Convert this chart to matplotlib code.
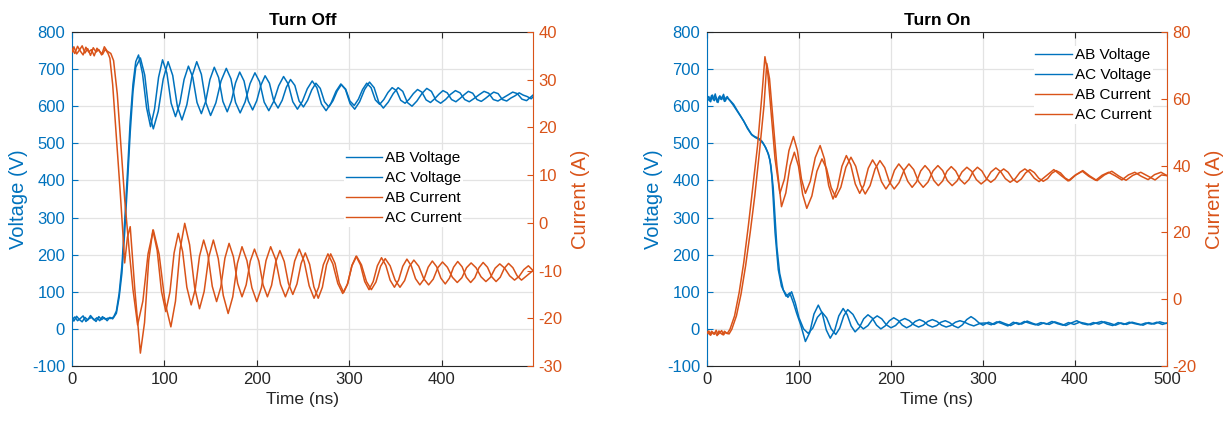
import matplotlib
matplotlib.use('Agg')
import matplotlib.pyplot as plt

plt.rcParams['font.family'] = ['Liberation Sans', 'DejaVu Sans']
plt.rcParams['axes.unicode_minus'] = False

# ---------------- Turn Off data (time ns, value) ----------------
off_ab_voltage = [
    (0, 25), (3, 32), (6, 22), (9, 28), (12, 35), (15, 20), (18, 27), (21, 31), (24, 24), (27, 30), (30, 22),
    (33, 33), (36, 26), (39, 29), (42, 28), (45, 32), (48, 48), (51, 95), (54, 170), (57, 290), (60, 420),
    (63, 560), (66, 660), (69, 720), (72, 738),
    (76.3, 688), (80.7, 596), (85, 545), (89.3, 592), (93.7, 678), (98, 725), (102.7, 689), (107.3, 608),
    (112, 572), (116.7, 608), (121.3, 672), (126, 708), (130.7, 678), (135.3, 610), (140, 580), (144.7, 613),
    (149.3, 672), (154, 705), (158.7, 677), (163.3, 613), (168, 585), (172.5, 614), (177, 663), (181.5, 692),
    (186.2, 668), (190.8, 614), (195.5, 590), (200, 615), (204.5, 657), (209, 682), (213.7, 662), (218.3, 615),
    (223, 595), (227.5, 616), (232, 651), (236.5, 672), (241.2, 656), (245.8, 614), (250.5, 598), (255, 616),
    (259.5, 644), (264, 662), (268.7, 648), (273.3, 612), (278, 598), (282.5, 615), (287, 641), (291.5, 658),
    (296.2, 646), (300.8, 614), (305.5, 602), (310, 619), (314.5, 645), (319, 662), (323.7, 650), (328.3, 617),
    (333, 605), (337.5, 618), (342, 637), (346.5, 650), (351.2, 642), (355.8, 616), (360.5, 608), (365, 619),
    (369.5, 634), (374, 645), (378.7, 638), (383.3, 617), (388, 610), (392.5, 620), (397, 632), (401.5, 642),
    (406.2, 636), (410.8, 618), (415.5, 612), (420, 621), (424.5, 631), (429, 640), (433.7, 635), (438.3, 618),
    (443, 613), (447.5, 621), (452, 630), (456.5, 638), (461.2, 634), (465.8, 618), (470.5, 614), (475, 622),
    (479.5, 628), (484, 636), (488.3, 630), (492.7, 626), (497, 620), (499, 625)]

off_ac_voltage = [
    (0, 30), (2, 21), (5, 34), (8, 25), (11, 19), (14, 31), (17, 24), (20, 36), (23, 27), (26, 20), (29, 33),
    (32, 25), (35, 30), (38, 22), (41, 31), (44, 27), (48, 42), (51, 85), (54, 150), (57, 260), (60, 390),
    (63, 530), (66, 640), (69, 705), (74, 730),
    (78.7, 684), (83.3, 585), (88, 539), (93.3, 586), (98.7, 673), (104, 720), (109, 683), (114, 600),
    (119, 563), (124.3, 604), (129.7, 679), (135, 720), (140, 686), (145, 609), (150, 575), (155.7, 609),
    (161.3, 668), (167, 702), (172, 674), (177, 610), (182, 582), (187.3, 611), (192.7, 661), (198, 690),
    (203, 666), (208, 611), (213, 588), (218.3, 613), (223.7, 655), (229, 680), (234, 660), (239, 612),
    (244, 592), (249.3, 613), (254.7, 647), (260, 668), (265, 650), (270, 606), (275, 588), (280.3, 608),
    (285.7, 640), (291, 660), (296, 645), (301, 607), (306, 592), (311.3, 612), (316.7, 645), (322, 665),
    (327, 650), (332, 611), (337, 595), (342.3, 611), (347.7, 634), (353, 650), (358, 640), (363, 610),
    (368, 600), (373.3, 614), (378.7, 634), (384, 648), (389, 640), (394, 616), (399, 608), (404.3, 618),
    (409.7, 632), (415, 642), (420, 636), (425, 618), (430, 612), (435.3, 621), (440.7, 631), (446, 640),
    (451, 635), (456, 618), (461, 614), (466.3, 622), (471.7, 630), (477, 638), (482, 634), (487, 619),
    (492, 615), (499, 630)]

off_ab_current = [
    (0, 36.5), (3, 35.5), (6, 37), (9, 36), (12, 35.2), (15, 36.8), (18, 35.8), (21, 36.3), (24, 35),
    (27, 36.6), (30, 35.9), (33, 35.3), (36, 36.4), (39, 35.5), (41, 34.5), (44, 29), (48, 18), (52, 7),
    (55, -2), (57, -8.4), (60, -3), (63, -0.8), (68, -14), (74, -27.3),
    (78.5, -20.9), (83, -7.9), (87.5, -1.5), (92.2, -5.8), (96.8, -14.3), (101.5, -18.6), (106, -14.5),
    (110.5, -6.3), (115, -2.2), (119.7, -6.0), (124.3, -13.5), (129, -17.2), (133.5, -13.8), (138, -7.0),
    (142.5, -3.6), (147.2, -6.8), (151.8, -13.3), (156.5, -16.5), (161, -13.5), (165.5, -7.4), (170, -4.3),
    (174.7, -7.1), (179.3, -12.7), (184, -15.5), (188.5, -13.0), (193, -8.0), (197.5, -5.5), (202.2, -8.0),
    (206.8, -13.0), (211.5, -15.5), (216, -13.1), (220.5, -8.2), (225, -5.8), (229.7, -8.1), (234.3, -12.7),
    (239, -15), (243.5, -12.8), (248, -8.5), (252.5, -6.3), (257.2, -8.7), (261.8, -13.4), (266.5, -15.8),
    (271, -13.5), (275.5, -8.8), (280, -6.5), (284.7, -8.5), (289.3, -12.6), (294, -14.6), (298.5, -12.7),
    (303, -8.9), (307.5, -7), (312.2, -8.8), (316.8, -12.3), (321.5, -14), (326, -12.3), (330.5, -9.0),
    (335, -7.3), (339.7, -8.9), (344.3, -12.0), (349, -13.5), (353.5, -12.0), (358, -9.1), (362.5, -7.6),
    (367.2, -9.0), (371.8, -11.7), (376.5, -13), (381, -11.8), (385.5, -9.3), (390, -8), (394.7, -9.2),
    (399.3, -11.6), (404, -12.8), (408.5, -11.6), (413, -9.3), (417.5, -8.1), (422.2, -9.2), (426.8, -11.4),
    (431.5, -12.5), (436, -11.5), (440.5, -9.4), (445, -8.3), (449.7, -9.3), (454.3, -11.3), (459, -12.3),
    (463.5, -11.4), (468, -9.5), (472.5, -8.5), (477.2, -9.4), (481.8, -11.1), (486.5, -12), (499, -10)]

off_ac_current = [
    (0, 35.8), (2, 36.9), (5, 35.4), (8, 36.2), (11, 37.1), (14, 35.6), (17, 36.5), (20, 35.1), (23, 36.7),
    (26, 35.8), (29, 36.3), (32, 35.2), (35, 36.9), (38, 36), (42, 35.5), (45, 34), (49, 27), (53, 16),
    (57, 5), (62, -6), (66, -14), (71, -21.4),
    (76.7, -16.4), (82.3, -6.5), (88, -1.5), (94.3, -6.6), (100.7, -16.7), (107, -21.8), (112, -16.4),
    (117, -5.5), (122, -0.1), (127.3, -4.6), (132.7, -13.5), (138, -18), (143, -14.4), (148, -7.2),
    (153, -3.6), (158.3, -7.5), (163.7, -15.2), (169, -19), (174, -15.5), (179, -8.5), (184, -5),
    (189.3, -7.9), (194.7, -13.6), (200, -16.5), (205, -13.6), (210, -7.9), (215, -5), (220.3, -7.6),
    (225.7, -12.9), (231, -15.5), (236, -13.0), (241, -8.0), (246, -5.5), (251.3, -8.1), (256.7, -13.2),
    (262, -15.8), (267, -13.5), (272, -8.8), (277, -6.5), (282.3, -8.6), (287.7, -12.7), (293, -14.8),
    (298, -12.9), (303, -9.0), (308, -7), (313.3, -8.8), (318.7, -12.3), (324, -14), (329, -12.4),
    (334, -9.1), (339, -7.5), (344.3, -9.0), (349.7, -12.0), (355, -13.5), (360, -12.1), (365, -9.2),
    (370, -7.8), (375.3, -9.1), (380.7, -11.7), (386, -13), (391, -11.8), (396, -9.4), (401, -8.2),
    (406.3, -9.3), (411.7, -11.4), (417, -12.5), (422, -11.5), (427, -9.4), (432, -8.4), (437.3, -9.4),
    (442.7, -11.3), (448, -12.3), (453, -11.4), (458, -9.5), (463, -8.6), (468.3, -9.5), (473.7, -11.1),
    (479, -12), (484, -11.2), (489, -9.8), (494, -9), (499, -10)]

# ---------------- Turn On data (time ns, value) ----------------
on_ab_voltage = [
    (0, 618), (2, 626), (4, 612), (6, 630), (8, 615), (10, 624), (12, 610), (14, 628), (16, 618), (18, 632),
    (20, 614), (22, 626), (24, 618), (28, 605), (32, 590), (36, 575), (40, 560), (44, 540), (48, 525),
    (52, 518), (56, 514), (60, 505), (63, 492), (66, 475), (68.5, 455), (70.5, 410), (72, 350), (74, 260),
    (77.5, 160), (81, 115), (86, 88), (90, 97), (94, 70), (97.5, 42), (102, 10), (107, -34), (111.7, -10),
    (116.3, 40), (121, 64), (125.3, 42), (129.7, -3), (134, -25), (138.7, -5), (143.3, 35), (148, 55),
    (152.3, 39), (156.7, 8), (161, -8), (165.7, 4), (170.3, 27), (175, 38), (179.7, 29), (184.3, 10),
    (189, 0), (193.7, 8), (198.3, 22), (203, 30), (207.7, 23), (212.3, 10), (217, 3), (221.7, 9), (226.3, 20),
    (231, 25), (235.7, 20), (240.3, 10), (245, 5), (249.7, 9), (254.3, 18), (259, 22), (263.7, 17),
    (268.3, 8), (273, 3), (277.7, 11), (282.3, 25), (287, 33), (291.3, 26), (295.7, 16), (300, 10),
    (306, 18), (312, 12), (318, 20), (324, 14), (330, 9), (336, 17), (342, 13), (348, 21), (354, 15),
    (360, 10), (366, 16), (372, 12), (378, 19), (384, 14), (390, 9), (396, 16), (402, 22), (408, 14),
    (414, 11), (420, 17), (426, 13), (432, 19), (438, 15), (444, 10), (450, 16), (456, 12), (462, 18),
    (468, 14), (474, 10), (480, 17), (486, 13), (492, 19), (498, 15), (500, 15)]

on_ac_voltage = [
    (0, 622), (3, 614), (5, 629), (7, 617), (9, 633), (11, 611), (13, 625), (15, 619), (17, 627), (19, 613),
    (21, 624), (23, 620), (25, 616), (29, 605), (33, 588), (37, 572), (41, 555), (45, 538), (49, 522),
    (53, 515), (57, 510), (61, 500), (64, 488), (67, 470), (69.5, 440), (72, 380), (74, 300), (76, 220),
    (79, 150), (83, 105), (88, 85), (92, 100), (96, 70), (100, 30), (105, 0), (110, -12), (115, 2),
    (120, 31), (125, 45), (130, 30), (135, 0), (140, -15), (144.3, 2), (148.7, 35), (153, 52), (158.7, 39),
    (164.3, 13), (170, 0), (175, 9), (180, 26), (185, 35), (190, 27), (195, 11), (200, 3), (205, 9),
    (210, 22), (215, 28), (220, 22), (225, 11), (230, 5), (235, 10), (240, 20), (245, 25), (250, 20),
    (255, 10), (260, 5), (265, 9), (270, 18), (275, 22), (280, 18), (285, 12), (290, 8), (297, 15),
    (303, 16), (309, 11), (315, 19), (321, 14), (327, 8), (333, 18), (339, 12), (345, 20), (351, 15),
    (357, 11), (363, 17), (369, 13), (375, 20), (381, 14), (387, 10), (393, 17), (399, 12), (405, 18),
    (411, 15), (417, 11), (423, 16), (429, 20), (435, 13), (441, 9), (447, 17), (453, 12), (459, 18),
    (465, 14), (471, 11), (477, 16), (483, 13), (489, 18), (495, 12), (500, 16)]

on_ab_current = [
    (0, -10.2), (2, -9.5), (4, -10.8), (6, -9.8), (8, -10.5), (10, -9.3), (12, -10.6), (14, -10), (16, -9.4),
    (18, -10.7), (20, -9.9), (22, -10.3), (25, -9), (30, -5), (35, 2), (40, 11), (45, 22), (50, 34),
    (55, 46), (60, 62), (63, 72.6), (66, 68), (70, 55), (74, 42), (79.3, 31.7), (84.2, 36.0), (89.1, 44.5),
    (94, 48.7), (98.3, 44.5), (102.7, 36.0), (107, 31.7), (112.3, 35.3), (117.7, 42.4), (123, 46),
    (127.7, 42), (132.3, 34), (137, 30), (141.8, 33.3), (146.7, 39.8), (151.5, 43), (156.3, 40.2),
    (161.2, 34.5), (166, 31.7), (170.7, 34.2), (175.3, 39.2), (180, 41.7), (184.8, 39.5), (189.7, 35.2),
    (194.5, 33), (199.2, 34.9), (203.8, 38.6), (208.5, 40.5), (213.3, 38.8), (218.2, 35.3), (223, 33.5),
    (227.7, 35.1), (232.3, 38.4), (237, 40), (241.8, 38.5), (246.7, 35.5), (251.5, 34), (256.2, 35.4),
    (260.8, 38.3), (265.5, 39.7), (270.3, 38.4), (275.2, 35.8), (280, 34.5), (284.7, 35.8), (289.3, 38.2),
    (294, 39.5), (298.8, 38.4), (303.7, 36.1), (308.5, 35), (313.2, 36), (317.8, 38), (322.5, 39),
    (327.3, 38), (332.2, 36), (337, 35), (341.7, 36), (346.3, 37.8), (351, 38.8), (355.8, 37.9),
    (360.7, 36.2), (365.5, 35.3), (370.2, 36.1), (374.8, 37.7), (379.5, 38.5), (384.3, 37.8), (389.2, 36.3),
    (394, 35.5), (401, 37.2), (408, 38.3), (415, 36.8), (422.5, 35.6), (429.5, 37.1), (436.5, 38),
    (444, 36.9), (451, 35.7), (458, 37.2), (465, 38), (472, 36.8), (479.5, 35.8), (486.5, 37.3),
    (493.5, 38), (500, 37)]

on_ac_current = [
    (0, -9.7), (3, -10.6), (5, -9.6), (7, -10.4), (9, -9.9), (11, -10.9), (13, -9.5), (15, -10.2), (17, -10.6),
    (19, -9.6), (21, -10.1), (24, -10.4), (27, -9), (32, -5), (37, 1.5), (42, 10), (47, 20), (52, 31),
    (57, 44), (62, 58), (65, 70.6), (68, 66), (72, 53), (76, 40), (81, 27.7), (85.7, 31.8), (90.3, 39.9),
    (95, 44), (99.5, 39.8), (104, 31.4), (108.5, 27.2), (114, 30.9), (119.5, 38.3), (125, 42), (130, 39.1),
    (135, 33.4), (140, 30.5), (145.5, 33.5), (151, 39.5), (156.5, 42.5), (161.7, 39.8), (166.8, 34.3),
    (172, 31.5), (177.3, 34), (182.7, 39), (188, 41.5), (193.2, 39.4), (198.3, 35.1), (203.5, 33),
    (208.8, 34.9), (214.2, 38.6), (219.5, 40.5), (224.7, 38.8), (229.8, 35.3), (235, 33.5), (240.3, 35.1),
    (245.7, 38.4), (251, 40), (256.2, 38.5), (261.3, 35.5), (266.5, 34), (271.8, 35.4), (277.2, 38.1),
    (282.5, 39.5), (287.7, 38.3), (292.8, 35.8), (298, 34.5), (303.3, 35.7), (308.7, 38.1), (314, 39.3),
    (319.2, 38.2), (324.3, 36.1), (329.5, 35), (334.8, 36), (340.2, 38), (345.5, 39), (350.7, 38),
    (355.8, 36.2), (361, 35.2), (369, 37), (377, 38.8), (385, 37), (392.5, 35.4), (400, 37.1), (408.5, 38.5),
    (416, 36.9), (424, 35.5), (432, 37.2), (440, 38.3), (448, 36.8), (455.5, 35.6), (463, 37.1),
    (471.5, 38), (479, 36.9), (487, 35.7), (494, 37.2), (500, 37)]

series_labels = ['AB Voltage', 'AC Voltage', 'AB Current', 'AC Current']
volt_ticks = [-100, 0, 100, 200, 300, 400, 500, 600, 700, 800]
time_ticks = [0, 100, 200, 300, 400, 500]
off_cur_ticks = [-30, -20, -10, 0, 10, 20, 30, 40]
on_cur_ticks = [-20, 0, 20, 40, 60, 80]

BLUE = '#0072BD'
ORANGE = '#D95319'
DARK = '#262626'
GRIDC = '#e3e3e3'

fig = plt.figure(figsize=(12.31, 4.22), dpi=100)


def xy(pts):
    return [p[0] for p in pts], [p[1] for p in pts]


def make_panel(rect, title, xmax, v_ab, v_ac, i_ab, i_ac, cur_ticks, leg_anchor):
    ax = fig.add_axes(rect)
    ax2 = ax.twinx()
    lv1, = ax.plot(*xy(v_ab), color=BLUE, lw=1.1)
    lv2, = ax.plot(*xy(v_ac), color=BLUE, lw=1.1)
    li1, = ax2.plot(*xy(i_ab), color=ORANGE, lw=1.1)
    li2, = ax2.plot(*xy(i_ac), color=ORANGE, lw=1.1)

    ax.set_xlim(0, xmax)
    ax.set_ylim(volt_ticks[0], volt_ticks[-1])
    ax2.set_ylim(cur_ticks[0], cur_ticks[-1])
    ax.set_xticks([t for t in time_ticks if t <= xmax])
    ax.set_yticks(volt_ticks)
    ax2.set_yticks(cur_ticks)

    ax.grid(True, color=GRIDC, lw=0.9)
    ax.set_axisbelow(True)

    ax.tick_params(axis='y', direction='in', length=4, width=0.8, colors=BLUE, labelsize=12, pad=5)
    ax.tick_params(axis='x', direction='in', length=4, width=0.8, colors=DARK, labelsize=12, pad=4,
                   top=True)
    ax2.tick_params(axis='y', direction='in', length=4, width=0.8, colors=ORANGE, labelsize=12, pad=4)

    for s in ['top', 'bottom']:
        ax.spines[s].set_color(DARK)
        ax.spines[s].set_linewidth(0.8)
    ax.spines['left'].set_color(BLUE)
    ax.spines['left'].set_linewidth(0.8)
    ax.spines['right'].set_visible(False)
    for s in ['left', 'top', 'bottom']:
        ax2.spines[s].set_visible(False)
    ax2.spines['right'].set_color(ORANGE)
    ax2.spines['right'].set_linewidth(0.8)

    ax.set_xlabel('Time (ns)', fontsize=12.5, color=DARK, labelpad=4)
    ax.set_ylabel('Voltage (V)', fontsize=14.5, color=BLUE, labelpad=3)
    ax2.set_ylabel('Current (A)', fontsize=14.5, color=ORANGE, labelpad=6)
    ax.set_title(title, fontsize=12.5, fontweight='bold', color='black', pad=5)

    leg = ax2.legend([lv1, lv2, li1, li2], series_labels, loc='upper left', bbox_to_anchor=leg_anchor,
                     fontsize=11, frameon=True, fancybox=False, borderpad=0.1, borderaxespad=0,
                     handlelength=2.4, handletextpad=0.2, labelspacing=0.4)
    leg.get_frame().set_facecolor('white')
    leg.get_frame().set_edgecolor('none')
    leg.get_frame().set_alpha(1)
    for h in leg.get_lines():
        h.set_linewidth(1.0)
    return ax, ax2


make_panel([0.0585, 0.1327, 0.3745, 0.7915], 'Turn Off', 499,
           off_ab_voltage, off_ac_voltage, off_ab_current, off_ac_current,
           off_cur_ticks, (0.59, 0.648))
make_panel([0.5743, 0.1327, 0.3737, 0.7915], 'Turn On', 500,
           on_ab_voltage, on_ac_voltage, on_ab_current, on_ac_current,
           on_cur_ticks, (0.71, 0.957))

fig.savefig('out.png', dpi=100)
